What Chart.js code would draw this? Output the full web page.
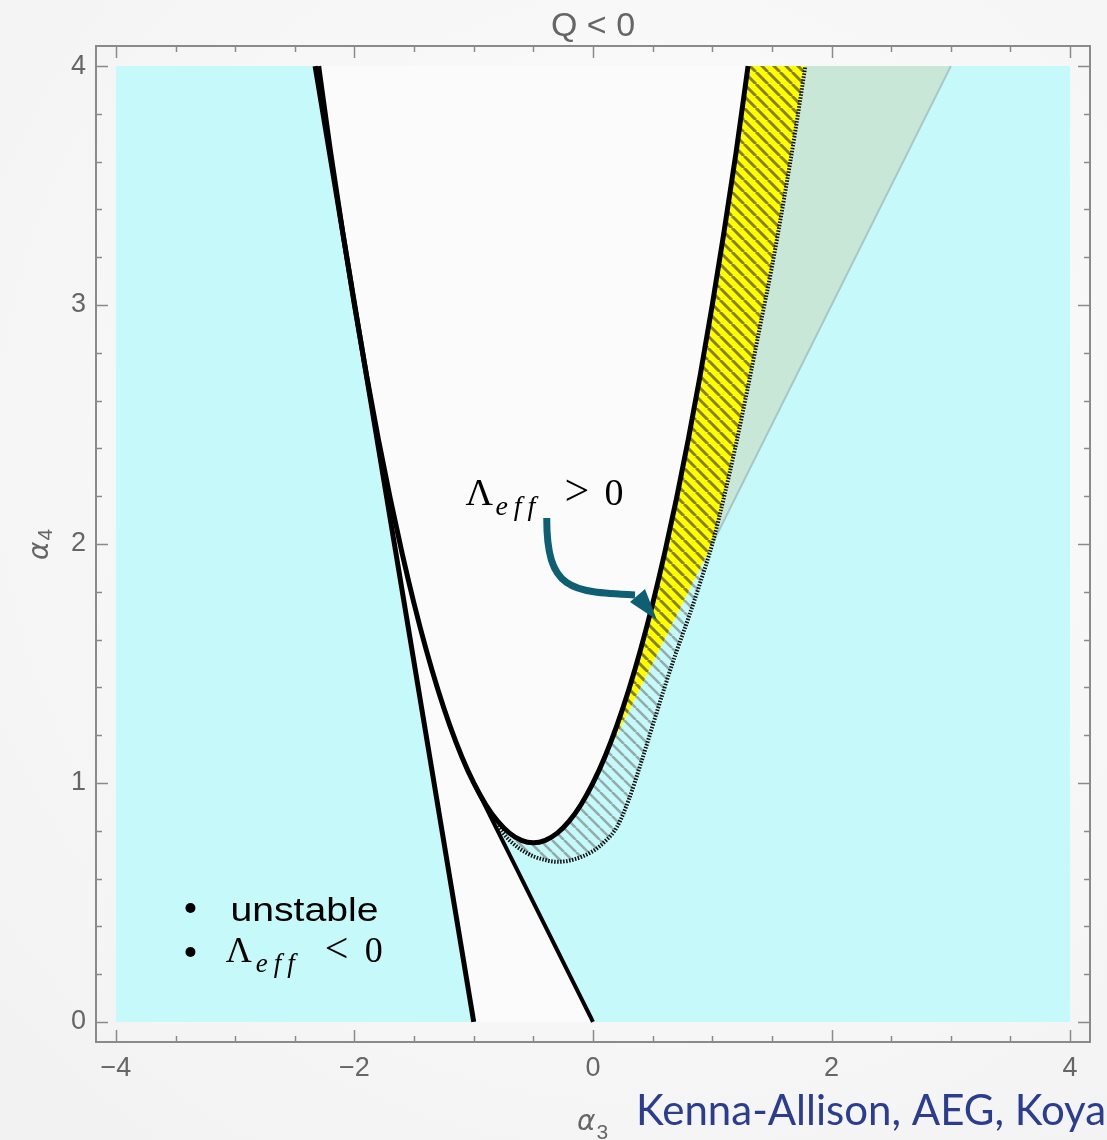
<!DOCTYPE html>
<html lang="en">
<head>
<meta charset="UTF-8">
<title>Q &lt; 0</title>
<script src="https://cdn.jsdelivr.net/npm/chart.js"></script>
<style>
  html, body { margin: 0; padding: 0; background: #f6f6f6; overflow: hidden; }
  #chart { display: block; }
</style>
</head>
<body>
<canvas id="chart" width="1107" height="1140"></canvas>
<script>
// curves, as (alpha3, alpha4) pairs
const parabolaX = [-2.3, -2.2, -2.1, -2.0, -1.9, -1.8, -1.7, -1.6, -1.5, -1.4, -1.3, -1.2, -1.1, -1.0,
                   -0.9, -0.8, -0.7, -0.6, -0.5, -0.4, -0.3, -0.2, -0.1, 0.0, 0.1, 0.2, 0.3, 0.4,
                   0.5, 0.6, 0.7, 0.8, 0.9, 1.0, 1.1, 1.2, 1.3];
const parabolaY = [4.00, 3.64, 3.31, 3.00, 2.71, 2.44, 2.19, 1.96, 1.75, 1.56, 1.39, 1.24, 1.11, 1.00,
                   0.91, 0.84, 0.79, 0.76, 0.75, 0.76, 0.79, 0.84, 0.91, 1.00, 1.11, 1.24, 1.39, 1.56,
                   1.75, 1.96, 2.19, 2.44, 2.71, 3.00, 3.31, 3.64, 4.00];

const dottedX = [-0.80, -0.70, -0.55, -0.42, -0.30, -0.16, 0.00, 0.10, 0.20, 0.30, 0.40, 0.50, 0.60,
                 0.70, 0.80, 0.90, 1.00, 1.10, 1.20, 1.30, 1.40, 1.50, 1.60, 1.70, 1.78];
const dottedY = [0.82, 0.76, 0.705, 0.68, 0.67, 0.68, 0.715, 0.755, 0.815, 0.93, 1.08, 1.24, 1.40,
                 1.55, 1.69, 1.84, 2.00, 2.20, 2.42, 2.66, 2.91, 3.16, 3.44, 3.74, 4.00];

const leftLineX = [-2.33, -1.0];
const leftLineY = [4.0, 0.0];
const lowLineX = [0.0, -1.0];
const lowLineY = [0.0, 1.0];
const greyLineX = [0.0, 1.0, 3.0];
const greyLineY = [1.0, 2.0, 4.0];
const boxX = [-4, -4, 4, 4];
const boxY = [0, 4, 4, 0];

const xMajor = [-4, -2, 0, 2, 4];
const xLabels = ['\u22124', '\u22122', '0', '2', '4'];
const yMajor = [0, 1, 2, 3, 4];
const yLabels = ['0', '1', '2', '3', '4'];

function pts(xs, ys) { return xs.map((x, i) => ({ x: x, y: ys[i] })); }

const parab = pts(parabolaX, parabolaY);
const dotted = pts(dottedX, dottedY);
const grey = pts(greyLineX, greyLineY);
const iP0 = parabolaX.indexOf(0.0);    // where the grey line touches the parabola
const iPm = parabolaX.indexOf(-0.8);   // where the dotted curve starts
const iD1 = dottedX.indexOf(1.0);      // dotted curve crosses the grey line

// regions
const whitePoly = [...pts(leftLineX, leftLineY), { x: 0, y: 0 }, ...dotted.slice(0, iD1 + 1), grey[2]];
const hatchPoly = [...dotted.slice(0, iD1 + 1), ...parab.slice(iPm, iP0 + 1).reverse()];
const yellowPoly = [...parab.slice(iP0), ...dotted.slice(iD1).reverse()];
const greenPoly = [...dotted.slice(iD1), grey[2]];

const canvas = document.getElementById('chart');
const mainCtx = canvas.getContext('2d');

function makeHatch(bg, fg, lw, p) {
  const c = document.createElement('canvas');
  c.width = p; c.height = p;
  const g = c.getContext('2d');
  g.fillStyle = bg;
  g.fillRect(0, 0, p, p);
  g.strokeStyle = fg;
  g.lineWidth = lw;
  g.beginPath();
  for (const k of [-p, 0, p]) { g.moveTo(k, 0); g.lineTo(k + p, p); }
  g.stroke();
  return mainCtx.createPattern(c, 'repeat');
}

const yellowHatch = makeHatch('#ffff00', '#858012', 3, 12);
const cyanHatch = makeHatch('#c6f9f9', '#93abab', 2.6, 12);

function lineSet(data, color, width, extra) {
  return Object.assign({ data: data, borderColor: color, borderWidth: width, fill: false,
    pointRadius: 0, tension: 0 }, extra || {});
}
function areaSet(data, color) {
  return { data: data, backgroundColor: color, borderWidth: 0, borderColor: 'rgba(0,0,0,0)',
    fill: 'shape', pointRadius: 0, tension: 0 };
}

const datasets = [
  lineSet(parab, '#000', 5, { cubicInterpolationMode: 'monotone' }),
  lineSet(pts(leftLineX, leftLineY), '#000', 5),
  lineSet(pts(lowLineX, lowLineY), '#000', 4),
  lineSet(dotted, '#111', 4, { borderDash: [1.5, 1.5], cubicInterpolationMode: 'monotone' }),
  lineSet(grey.slice(1), '#a8c6c6', 2),
  areaSet(greenPoly, '#c9e7d6'),
  areaSet(yellowPoly, yellowHatch),
  areaSet(hatchPoly, cyanHatch),
  areaSet(whitePoly, '#fbfbfb'),
  areaSet(pts(boxX, boxY), '#c6f9f9')
];

// annotation positions in data coordinates
const noteAt = { x: -1.07, y: 2.163 };
const arrowPath = [[-0.388, 2.109], [-0.388, 1.808], [-0.193, 1.799], [0.352, 1.787]];
const arrowHead = [[0.436, 1.812], [0.536, 1.682], [0.31, 1.757]];
const bulletX = -3.375;
const bulletY = [0.477, 0.293];
const legendTextAt = { x: -3.04, y: 0.423 };
const legendMathAt = { x: -3.08, y: 0.251 };

function drawLambda(ctx, px, py, size, rel, sub, gap) {
  ctx.fillStyle = '#000';
  ctx.textAlign = 'left';
  ctx.textBaseline = 'alphabetic';
  ctx.font = size + 'px "Liberation Serif"';
  ctx.fillText('\u039b', px, py);
  ctx.font = 'italic ' + sub + 'px "Liberation Serif"';
  ctx.letterSpacing = '6px';
  ctx.fillText('eff', px + 30, py + 10);
  ctx.letterSpacing = '0px';
  ctx.font = (size + 6) + 'px "Liberation Serif"';
  ctx.fillText(rel, px + gap, py);
  ctx.font = size + 'px "Liberation Serif"';
  ctx.fillText('0', px + gap + 40, py);
}

const decor = {
  id: 'decor',
  beforeDraw(chart) {
    const ctx = chart.ctx;
    const g = ctx.createRadialGradient(650, 450, 50, 650, 450, 900);
    g.addColorStop(0, '#fdfdfd');
    g.addColorStop(1, '#f2f2f2');
    ctx.save();
    ctx.fillStyle = g;
    ctx.fillRect(0, 0, chart.width, chart.height);
    ctx.restore();
  },
  afterDatasetsDraw(chart) {
    const ctx = chart.ctx;
    const sx = v => chart.scales.x.getPixelForValue(v);
    const sy = v => chart.scales.y.getPixelForValue(v);
    ctx.save();
    // arrow
    ctx.strokeStyle = '#0e5f74';
    ctx.fillStyle = '#0e5f74';
    ctx.lineWidth = 7;
    ctx.beginPath();
    ctx.moveTo(sx(arrowPath[0][0]), sy(arrowPath[0][1]));
    ctx.bezierCurveTo(sx(arrowPath[1][0]), sy(arrowPath[1][1]), sx(arrowPath[2][0]), sy(arrowPath[2][1]),
      sx(arrowPath[3][0]), sy(arrowPath[3][1]));
    ctx.stroke();
    ctx.beginPath();
    arrowHead.forEach((p, i) => i ? ctx.lineTo(sx(p[0]), sy(p[1])) : ctx.moveTo(sx(p[0]), sy(p[1])));
    ctx.closePath();
    ctx.fill();
    // note
    drawLambda(ctx, sx(noteAt.x), sy(noteAt.y), 38, '>', 28, 99);
    // legend
    ctx.fillStyle = '#000';
    bulletY.forEach(v => { ctx.beginPath(); ctx.arc(sx(bulletX), sy(v), 5, 0, Math.PI * 2); ctx.fill(); });
    ctx.font = '33px "Liberation Sans"';
    const w = ctx.measureText('unstable').width;
    ctx.save();
    ctx.translate(sx(legendTextAt.x), sy(legendTextAt.y));
    ctx.scale(148 / w, 1);
    ctx.fillText('unstable', 0, 0);
    ctx.restore();
    drawLambda(ctx, sx(legendMathAt.x), sy(legendMathAt.y), 36, '<', 27, 99);
    ctx.restore();
  },
  afterDraw(chart) {
    const ctx = chart.ctx;
    const a = chart.chartArea;
    const sx = v => chart.scales.x.getPixelForValue(v);
    const sy = v => chart.scales.y.getPixelForValue(v);
    ctx.save();
    ctx.strokeStyle = '#8a8a8a';
    ctx.lineWidth = 2;
    ctx.strokeRect(a.left, a.top, a.right - a.left, a.bottom - a.top);
    ctx.lineWidth = 1.5;
    ctx.beginPath();
    for (let i = -8; i <= 8; i++) {
      const v = i / 2;
      const len = xMajor.includes(v) ? 12 : 6;
      const p = Math.round(sx(v)) + 0.5;
      ctx.moveTo(p, a.bottom); ctx.lineTo(p, a.bottom - len);
      ctx.moveTo(p, a.top); ctx.lineTo(p, a.top + len);
    }
    for (let i = 0; i <= 20; i++) {
      const v = i / 5;
      const len = i % 5 === 0 ? 12 : 6;
      const p = Math.round(sy(v)) + 0.5;
      ctx.moveTo(a.left, p); ctx.lineTo(a.left + len, p);
      ctx.moveTo(a.right, p); ctx.lineTo(a.right - len, p);
    }
    ctx.stroke();

    ctx.fillStyle = '#666';
    ctx.font = '27px "Liberation Sans"';
    ctx.textAlign = 'center';
    ctx.textBaseline = 'middle';
    xMajor.forEach((v, i) => ctx.fillText(xLabels[i], sx(v), 1069));
    ctx.textAlign = 'right';
    yMajor.forEach((v, i) => ctx.fillText(yLabels[i], 86, sy(v)));

    // title
    ctx.textAlign = 'center';
    ctx.textBaseline = 'alphabetic';
    ctx.font = '34px "Liberation Sans"';
    ctx.fillText('Q < 0', (a.left + a.right) / 2, 36);

    // axis titles
    ctx.textAlign = 'left';
    ctx.font = 'italic 28px "DejaVu Sans"';
    const wa = ctx.measureText('\u03b1').width;
    ctx.fillText('\u03b1', 577, 1130);
    ctx.font = '21px "Liberation Sans"';
    ctx.fillText('3', 578 + wa, 1139);
    ctx.save();
    ctx.translate(48, 560);
    ctx.rotate(-Math.PI / 2);
    ctx.font = 'italic 28px "DejaVu Sans"';
    ctx.fillText('\u03b1', 0, 0);
    ctx.font = '21px "Liberation Sans"';
    ctx.fillText('4', wa + 1, 4);
    ctx.restore();

    // credit
    ctx.fillStyle = '#2b3d8f';
    ctx.font = '42px Lato';
    ctx.fillText('Kenna-Allison, AEG, Koya', 636, 1125, 472);
    ctx.restore();
  }
};

new Chart(canvas, {
  type: 'line',
  data: { datasets: datasets },
  options: {
    responsive: false,
    animation: false,
    devicePixelRatio: 1,
    layout: { padding: { left: 96, top: 46, right: 17, bottom: 98 } },
    scales: {
      x: { type: 'linear', min: -4.167, max: 4.167, display: false },
      y: { type: 'linear', min: -0.084, max: 4.084, display: false }
    },
    plugins: {
      legend: { display: false },
      tooltip: { enabled: false },
      title: { display: false }
    }
  },
  plugins: [decor]
});
</script>
</body>
</html>
